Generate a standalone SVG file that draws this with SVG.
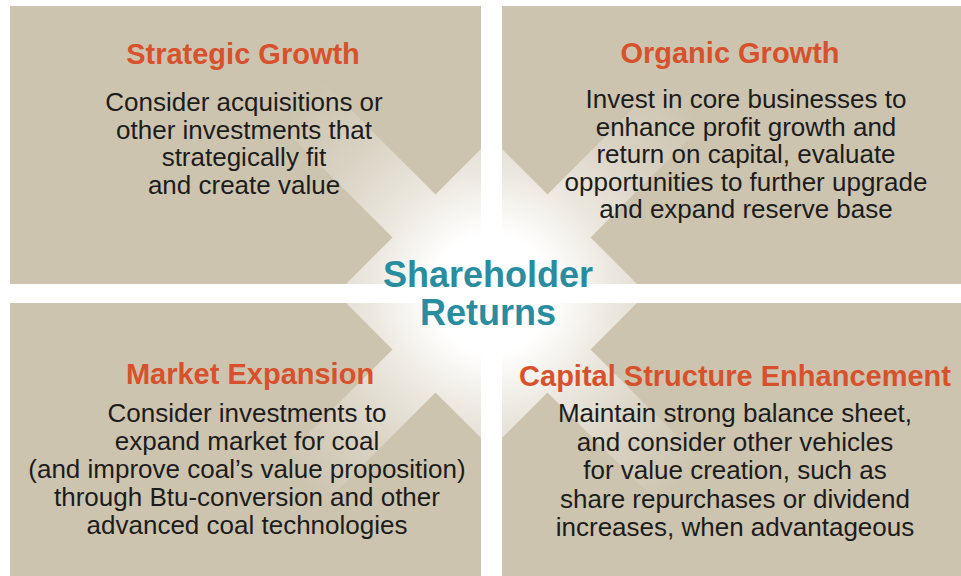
<svg xmlns="http://www.w3.org/2000/svg" width="961" height="576" viewBox="0 0 961 576">
<style>
.quad{fill:#cdc4af}
.title{font-family:"Liberation Sans",Arial,sans-serif;font-weight:bold;font-size:29px;fill:#d7512d;text-anchor:middle}
.body{font-family:"Liberation Sans",Arial,sans-serif;font-size:26px;fill:#1c1c1c;text-anchor:middle}
.center{font-family:"Liberation Sans",Arial,sans-serif;font-weight:bold;font-size:36px;fill:#2a8d9f;text-anchor:middle}
</style>
<defs>
<radialGradient id="glow" gradientUnits="userSpaceOnUse" cx="491.5" cy="293.5" r="270">
<stop offset="0" stop-color="#ffffff"/>
<stop offset="0.22" stop-color="#ffffff"/>
<stop offset="0.45" stop-color="#ece8df"/>
<stop offset="0.72" stop-color="#d9d2c3"/>
<stop offset="1" stop-color="#cdc4af"/>
</radialGradient>
<clipPath id="quads">
<rect x="10" y="6" width="471" height="278"/>
<rect x="502" y="6" width="459" height="278"/>
<rect x="10" y="303" width="471" height="273"/>
<rect x="502" y="303" width="459" height="273"/>
</clipPath>
</defs>
<rect width="961" height="576" fill="#ffffff"/>
<g id="strategic-growth">
<rect class="quad" x="10" y="6" width="471" height="278"/>
</g>
<g id="organic-growth">
<rect class="quad" x="502" y="6" width="459" height="278"/>
</g>
<g id="market-expansion">
<rect class="quad" x="10" y="303" width="471" height="273"/>
</g>
<g id="capital-structure">
<rect class="quad" x="502" y="303" width="459" height="273"/>
</g>
<g id="shareholder-returns">
<path clip-path="url(#quads)" fill="url(#glow)" d="M491.5,138.5 L435.5,194.5 L185.5,-55.5 L142.5,-12.5 L392.5,237.5 L336.5,293.5 L392.5,349.5 L142.5,599.5 L185.5,642.5 L435.5,392.5 L491.5,448.5 L547.5,392.5 L797.5,642.5 L840.5,599.5 L590.5,349.5 L646.5,293.5 L590.5,237.5 L840.5,-12.5 L797.5,-55.5 L547.5,194.5 Z"/>
<text class="center" x="488" y="286.5">Shareholder</text>
<text class="center" x="488" y="325">Returns</text>
</g>
<g id="strategic-growth-text">
<text class="title" x="243" y="64">Strategic Growth</text>
<text class="body" x="244" y="111">Consider acquisitions or</text>
<text class="body" x="244" y="138.5">other investments that</text>
<text class="body" x="244" y="166">strategically fit</text>
<text class="body" x="244" y="193.5">and create value</text>
</g>
<g id="organic-growth-text">
<text class="title" x="730" y="63">Organic Growth</text>
<text class="body" x="746" y="108">Invest in core businesses to</text>
<text class="body" x="746" y="135.5">enhance profit growth and</text>
<text class="body" x="746" y="163">return on capital, evaluate</text>
<text class="body" x="746" y="190.5">opportunities to further upgrade</text>
<text class="body" x="746" y="218">and expand reserve base</text>
</g>
<g id="market-expansion-text">
<text class="title" x="250" y="384">Market Expansion</text>
<text class="body" x="247" y="422">Consider investments to</text>
<text class="body" x="247" y="450">expand market for coal</text>
<text class="body" x="247" y="478">(and improve coal’s value proposition)</text>
<text class="body" x="247" y="506">through Btu-conversion and other</text>
<text class="body" x="247" y="534">advanced coal technologies</text>
</g>
<g id="capital-structure-text">
<text class="title" x="735" y="386">Capital Structure Enhancement</text>
<text class="body" x="735" y="422">Maintain strong balance sheet,</text>
<text class="body" x="735" y="450.5">and consider other vehicles</text>
<text class="body" x="735" y="479">for value creation, such as</text>
<text class="body" x="735" y="507.5">share repurchases or dividend</text>
<text class="body" x="735" y="536">increases, when advantageous</text>
</g>
</svg>
